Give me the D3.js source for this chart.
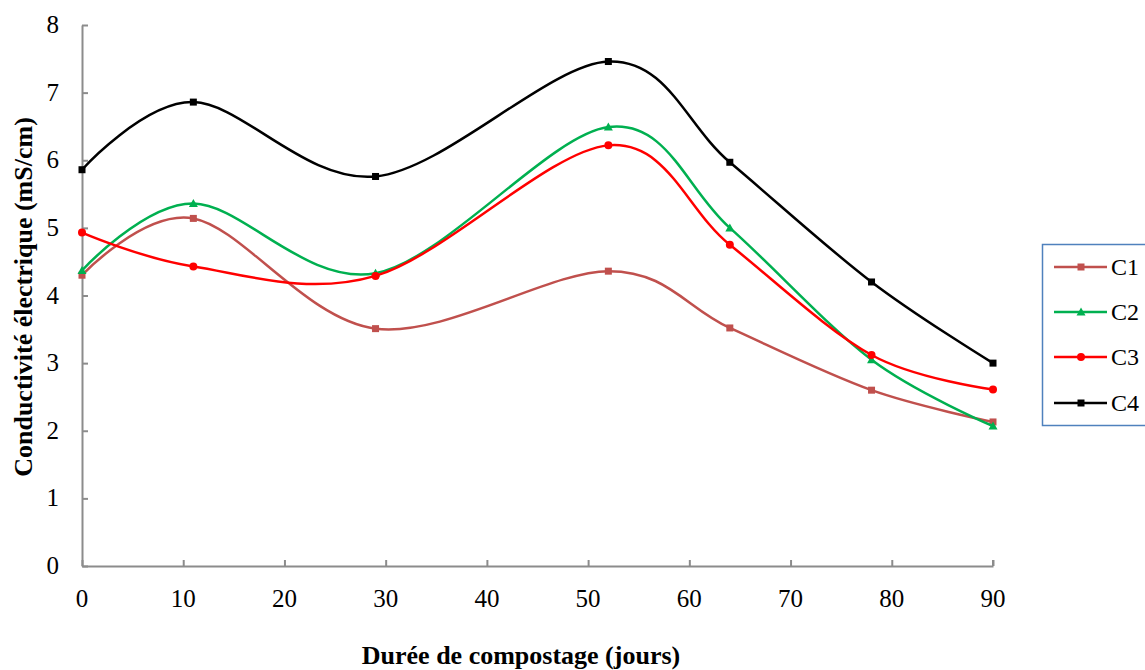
<!DOCTYPE html>
<html>
<head>
<meta charset="utf-8">
<script src="https://cdn.jsdelivr.net/npm/d3@7"></script>
<style>
  html, body { margin: 0; padding: 0; background: #fff; }
  svg { display: block; }
</style>
</head>
<body>
<svg id="chart" width="1145" height="670"></svg>
<script>
// Composting duration (days) at each sampling
const days = [0, 11, 29, 52, 64, 78, 90];

// Electrical conductivity (mS/cm) for each compost
const c1 = [4.30, 5.14, 3.51, 4.36, 3.52, 2.60, 2.13];
const c2 = [4.37, 5.36, 4.33, 6.49, 5.00, 3.05, 2.07];
const c3 = [4.93, 4.43, 4.29, 6.22, 4.75, 3.12, 2.61];
const c4 = [5.86, 6.86, 5.76, 7.46, 5.97, 4.20, 3.00];

const seriesNames = ["C1", "C2", "C3", "C4"];
const xTicks = [0, 10, 20, 30, 40, 50, 60, 70, 80, 90];
const yTicks = [0, 1, 2, 3, 4, 5, 6, 7, 8];

const series = [
  { name: seriesNames[0], values: c1, color: "#c0504d", marker: "square" },
  { name: seriesNames[1], values: c2, color: "#00b050", marker: "triangle" },
  { name: seriesNames[2], values: c3, color: "#ff0000", marker: "circle" },
  { name: seriesNames[3], values: c4, color: "#000000", marker: "square" }
];

const FONT = "'Liberation Serif', 'Times New Roman', serif";
const svg = d3.select("#chart");
const plot = { left: 82, right: 993, top: 25, bottom: 566 };

const x = d3.scaleLinear().domain([0, 90]).range([plot.left, plot.right]);
const y = d3.scaleLinear().domain([0, 8]).range([plot.bottom, plot.top]);

const axisColor = "#8c8c8c";

// X axis: line and inward ticks
const xAxis = svg.append("g")
  .attr("transform", `translate(0,${plot.bottom})`)
  .call(d3.axisBottom(x).tickValues(xTicks).tickSizeInner(-6).tickSizeOuter(0).tickFormat(""));
xAxis.select(".domain").attr("stroke", axisColor).attr("stroke-width", 2);
xAxis.selectAll(".tick line").attr("stroke", axisColor).attr("stroke-width", 2);
xAxis.append("line")
  .attr("x1", x(90)).attr("x2", x(90)).attr("y1", 0).attr("y2", -6)
  .attr("stroke", axisColor).attr("stroke-width", 2);

// X tick labels
svg.append("g").selectAll("text")
  .data(xTicks)
  .join("text")
  .attr("x", d => x(d))
  .attr("y", 607)
  .attr("text-anchor", "middle")
  .attr("font-family", FONT)
  .attr("font-size", 25)
  .attr("fill", "#000")
  .text(d => d);

// Y axis: line and inward ticks
const yAxis = svg.append("g")
  .attr("transform", `translate(${plot.left},0)`)
  .call(d3.axisLeft(y).tickValues(yTicks).tickSizeInner(-6).tickSizeOuter(0).tickFormat(""));
yAxis.select(".domain").attr("stroke", axisColor).attr("stroke-width", 2);
yAxis.selectAll(".tick line").attr("stroke", axisColor).attr("stroke-width", 2);

// Y tick labels
svg.append("g").selectAll("text")
  .data(yTicks)
  .join("text")
  .attr("x", 59)
  .attr("y", d => y(d) + 8)
  .attr("text-anchor", "end")
  .attr("font-family", FONT)
  .attr("font-size", 25)
  .attr("fill", "#000")
  .text(d => d);

// Axis titles
svg.append("text")
  .attr("x", 521).attr("y", 664)
  .attr("text-anchor", "middle")
  .attr("font-family", FONT)
  .attr("font-weight", "bold").attr("font-size", 26)
  .text("Durée de compostage (jours)");

svg.append("text")
  .attr("transform", "translate(32,297) rotate(-90)")
  .attr("text-anchor", "middle")
  .attr("font-family", FONT)
  .attr("font-weight", "bold").attr("font-size", 26)
  .text("Conductivité électrique (mS/cm)");

// Smoothed series lines
const line = d3.line()
  .x((d, i) => x(days[i]))
  .y(d => y(d))
  .curve(d3.curveCatmullRom.alpha(0));

function drawMarker(g, type, cx, cy, color) {
  if (type === "square") {
    g.append("rect").attr("x", cx - 3.5).attr("y", cy - 3.5)
      .attr("width", 7).attr("height", 7).attr("fill", color);
  } else if (type === "triangle") {
    g.append("path")
      .attr("d", `M${cx},${cy - 4.5}L${cx + 4.5},${cy + 3.5}L${cx - 4.5},${cy + 3.5}Z`)
      .attr("fill", color);
  } else {
    g.append("circle").attr("cx", cx).attr("cy", cy).attr("r", 4).attr("fill", color);
  }
}

series.forEach(s => {
  const g = svg.append("g");
  g.append("path")
    .attr("d", line(s.values))
    .attr("fill", "none")
    .attr("stroke", s.color)
    .attr("stroke-width", 2.5);
  s.values.forEach((v, i) => drawMarker(g, s.marker, x(days[i]), y(v), s.color));
});

// Legend
const legend = svg.append("g");
legend.append("rect")
  .attr("x", 1042.5).attr("y", 244.5).attr("width", 110).attr("height", 181)
  .attr("fill", "#fff").attr("stroke", "#4f81bd").attr("stroke-width", 1.5);

const legendRows = [267, 312, 357, 403];
series.forEach((s, i) => {
  const ly = legendRows[i];
  legend.append("line")
    .attr("x1", 1054).attr("x2", 1107).attr("y1", ly).attr("y2", ly)
    .attr("stroke", s.color).attr("stroke-width", 2.5);
  drawMarker(legend, s.marker, 1081, ly, s.color);
  legend.append("text")
    .attr("x", 1111).attr("y", ly + 8)
    .attr("font-family", FONT)
    .attr("font-size", 24)
    .attr("fill", "#000")
    .text(s.name);
});
</script>
</body>
</html>
